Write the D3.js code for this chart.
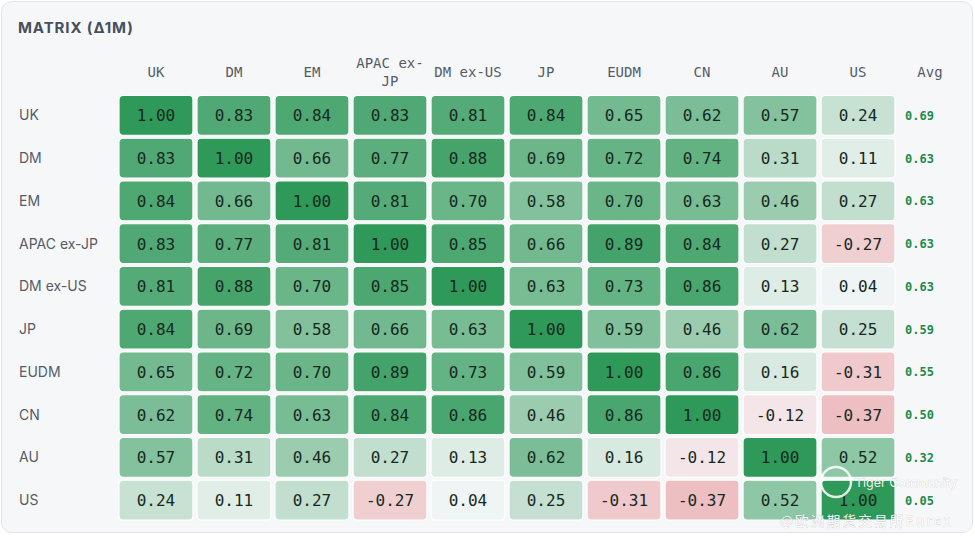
<!DOCTYPE html>
<html>
<head>
<meta charset="utf-8">
<script src="https://cdn.jsdelivr.net/npm/d3@7"></script>
<style>
  html, body { margin: 0; padding: 0; background: #ffffff; }
  svg { display: block; }
</style>
</head>
<body>
<div id="chart"></div>
<script>
// correlation matrix, 1M change
const labels = ["UK", "DM", "EM", "APAC ex-JP", "DM ex-US", "JP", "EUDM", "CN", "AU", "US"];
const rowUK     = [1.00, 0.83, 0.84, 0.83, 0.81, 0.84, 0.65, 0.62, 0.57, 0.24];
const rowDM     = [0.83, 1.00, 0.66, 0.77, 0.88, 0.69, 0.72, 0.74, 0.31, 0.11];
const rowEM     = [0.84, 0.66, 1.00, 0.81, 0.70, 0.58, 0.70, 0.63, 0.46, 0.27];
const rowAPAC   = [0.83, 0.77, 0.81, 1.00, 0.85, 0.66, 0.89, 0.84, 0.27, -0.27];
const rowDMexUS = [0.81, 0.88, 0.70, 0.85, 1.00, 0.63, 0.73, 0.86, 0.13, 0.04];
const rowJP     = [0.84, 0.69, 0.58, 0.66, 0.63, 1.00, 0.59, 0.46, 0.62, 0.25];
const rowEUDM   = [0.65, 0.72, 0.70, 0.89, 0.73, 0.59, 1.00, 0.86, 0.16, -0.31];
const rowCN     = [0.62, 0.74, 0.63, 0.84, 0.86, 0.46, 0.86, 1.00, -0.12, -0.37];
const rowAU     = [0.57, 0.31, 0.46, 0.27, 0.13, 0.62, 0.16, -0.12, 1.00, 0.52];
const rowUS     = [0.24, 0.11, 0.27, -0.27, 0.04, 0.25, -0.31, -0.37, 0.52, 1.00];
const avgValues = [0.69, 0.63, 0.63, 0.63, 0.63, 0.59, 0.55, 0.50, 0.32, 0.05];

const matrix = [rowUK, rowDM, rowEM, rowAPAC, rowDMexUS, rowJP, rowEUDM, rowCN, rowAU, rowUS];

const width = 975, height = 536;
const mono = "'DejaVu Sans Mono', 'Liberation Mono', monospace";
const sans = "Inter, 'Noto Sans', 'DejaVu Sans', sans-serif";

const svg = d3.select("#chart").append("svg")
    .attr("width", width)
    .attr("height", height);

// card
svg.append("rect")
    .attr("x", 1.5).attr("y", 1.5)
    .attr("width", 971).attr("height", 531)
    .attr("rx", 10)
    .attr("fill", "#f6f7f9")
    .attr("stroke", "#e2e5e9");

svg.append("text")
    .attr("x", 18).attr("y", 33)
    .attr("font-family", sans)
    .attr("font-size", 15)
    .attr("font-weight", 700)
    .attr("letter-spacing", 0.9)
    .attr("fill", "#474f5b")
    .text("MATRIX (Δ1M)");

const x = d3.scaleBand().domain(labels).range([119, 895]).paddingInner(0.052);
const y = d3.scaleBand().domain(labels).range([95.5, 520]).paddingInner(0.07);

// green for positive, red for negative, strength by |value|
const green = d3.interpolateRgb("#f7f8fa", "#2e9958");
const red = d3.interpolateRgb("#f7f8fa", "#dc5f62");
const color = v => v >= 0 ? green(v) : red(-v);

const cells = [];
matrix.forEach((row, i) => row.forEach((v, j) => cells.push({ r: labels[i], c: labels[j], v })));

// column headers
const headers = svg.append("g").attr("class", "col-headers");
labels.forEach(l => {
    const t = headers.append("text")
        .attr("x", x(l) + x.bandwidth() / 2)
        .attr("text-anchor", "middle")
        .attr("font-family", mono)
        .attr("font-size", 14)
        .attr("fill", "#555c67");
    if (l === "APAC ex-JP") {
        t.append("tspan").attr("x", x(l) + x.bandwidth() / 2).attr("y", 68).text("APAC ex-");
        t.append("tspan").attr("x", x(l) + x.bandwidth() / 2).attr("y", 86).text("JP");
    } else {
        t.attr("y", 77).text(l);
    }
});
headers.append("text")
    .attr("x", 930).attr("y", 77)
    .attr("text-anchor", "middle")
    .attr("font-family", mono)
    .attr("font-size", 14)
    .attr("fill", "#555c67")
    .text("Avg");

// row labels
svg.append("g").selectAll("text")
    .data(labels)
    .join("text")
    .attr("x", 19)
    .attr("y", d => y(d) + y.bandwidth() / 2)
    .attr("dy", "0.35em")
    .attr("font-family", sans)
    .attr("font-size", 14)
    .attr("fill", "#555c67")
    .text(d => d);

// cells
const cellG = svg.append("g").selectAll("g")
    .data(cells)
    .join("g")
    .attr("transform", d => `translate(${x(d.c)},${y(d.r)})`);

cellG.append("rect")
    .attr("width", x.bandwidth())
    .attr("height", y.bandwidth())
    .attr("rx", 4)
    .attr("fill", d => color(d.v))
    .attr("stroke", "#ffffff")
    .attr("stroke-width", 1.2);

cellG.append("text")
    .attr("x", x.bandwidth() / 2)
    .attr("y", y.bandwidth() / 2)
    .attr("dy", "0.38em")
    .attr("text-anchor", "middle")
    .attr("font-family", mono)
    .attr("font-size", 16)
    .attr("fill", "#17281f")
    .text(d => d.v.toFixed(2));

// averages
svg.append("g").selectAll("text")
    .data(avgValues)
    .join("text")
    .attr("x", 905)
    .attr("y", (d, i) => y(labels[i]) + y.bandwidth() / 2)
    .attr("dy", "0.38em")
    .attr("font-family", mono)
    .attr("font-size", 12)
    .attr("font-weight", 700)
    .attr("fill", "#1f8a4c")
    .text(d => d.toFixed(2));

// watermark
const wm = svg.append("g").attr("class", "watermark")
    .attr("fill", "#ffffff")
    .attr("stroke", "rgba(90,90,90,0.35)")
    .attr("stroke-width", 0.6)
    .attr("paint-order", "stroke");
wm.append("circle")
    .attr("cx", 836).attr("cy", 482).attr("r", 15)
    .attr("fill", "none")
    .attr("stroke", "rgba(255,255,255,0.85)")
    .attr("stroke-width", 2.5);
wm.append("text")
    .attr("x", 855).attr("y", 487)
    .attr("font-family", sans)
    .attr("font-size", 12.5)
    .attr("opacity", 0.9)
    .text("Tiger Community");
wm.append("text")
    .attr("x", 780).attr("y", 526)
    .attr("font-family", "'Noto Sans CJK SC', sans-serif")
    .attr("font-size", 13.5)
    .attr("letter-spacing", 2.3)
    .attr("opacity", 0.95)
    .text("@欧洲期货交易所Eurex");
</script>
</body>
</html>
